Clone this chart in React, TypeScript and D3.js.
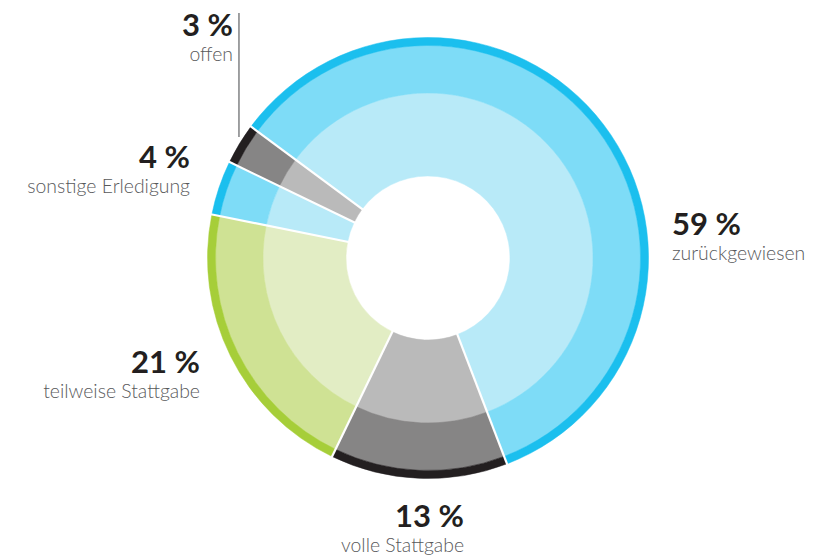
import React from 'react';
import * as d3 from 'd3';

const categories = ['zurückgewiesen', 'volle Stattgabe', 'teilweise Stattgabe', 'sonstige Erledigung', 'offen'];
const values = [59, 13, 21, 4, 3];
const percentLabels = ['59 %', '13 %', '21 %', '4 %', '3 %'];
const sliceTheme = ['blue', 'gray', 'green', 'blue', 'gray'];

const palettes: Record<string, string[]> = {
  blue: ['#b8eaf8', '#7edcf7', '#1bbfee'],
  gray: ['#bababa', '#868585', '#231f20'],
  green: ['#e2edc4', '#cfe294', '#a6ce39'],
};

const W = 824;
const H = 560;
const cx = 428;
const cy = 258;
const rings = [82, 165, 212.5, 220.5];
const startDeg = -53.4;

// label layout: [x, y of percent baseline, anchor]
const labelLayout: [number, number, string][] = [
  [672, 235, 'start'],
  [464, 527, 'end'],
  [200, 373, 'end'],
  [190, 168, 'end'],
  [233, 36, 'end'],
];

export default function App() {
  const start = (startDeg * Math.PI) / 180;
  const pie = d3
    .pie<number>()
    .sort(null)
    .value((d) => d)
    .startAngle(start)
    .endAngle(start + 2 * Math.PI);
  const arcsData = pie(values);
  const arcGen = d3.arc<any>();

  const offenArc = arcsData[4];
  const offenMid = (offenArc.startAngle + offenArc.endAngle) / 2;
  const leaderX = cx + (rings[3] + 0.5) * Math.sin(offenMid);

  return (
    <svg
      width={W}
      height={H}
      style={{ position: 'absolute', left: 0, top: 0, display: 'block', background: '#fff' }}
    >
      <g transform={`translate(${cx},${cy})`}>
        {arcsData.map((a, i) =>
          [0, 1, 2].map((r) => (
            <path
              key={`${i}-${r}`}
              d={
                arcGen({
                  innerRadius: rings[r],
                  outerRadius: rings[r + 1],
                  startAngle: a.startAngle,
                  endAngle: a.endAngle,
                }) as string
              }
              fill={palettes[sliceTheme[i]][r]}
              stroke={palettes[sliceTheme[i]][r]}
              strokeWidth={0.5}
            />
          ))
        )}
        {arcsData.map((a, i) => {
          const ang = a.startAngle;
          const r0 = rings[0] - 1;
          const r1 = rings[3] + 1;
          return (
            <line
              key={`sep-${i}`}
              x1={r0 * Math.sin(ang)}
              y1={-r0 * Math.cos(ang)}
              x2={r1 * Math.sin(ang)}
              y2={-r1 * Math.cos(ang)}
              stroke="#fff"
              strokeWidth={2.2}
            />
          );
        })}
      </g>
      <line
        x1={leaderX}
        y1={13}
        x2={leaderX}
        y2={137}
        stroke="#6d6e70"
        strokeWidth={1.3}
      />
      {categories.map((c, i) => {
        const [x, y, anchor] = labelLayout[i];
        return (
          <g key={c} fontFamily="Lato, 'Open Sans', sans-serif" textAnchor={anchor as any}>
            <text x={x} y={y} fontSize={31} fontWeight={700} fill="#231f20">
              {percentLabels[i]}
            </text>
            <text x={x} y={y + 25} fontSize={19.4} fontWeight={300} fill="#58595b">
              {c}
            </text>
          </g>
        );
      })}
    </svg>
  );
}
